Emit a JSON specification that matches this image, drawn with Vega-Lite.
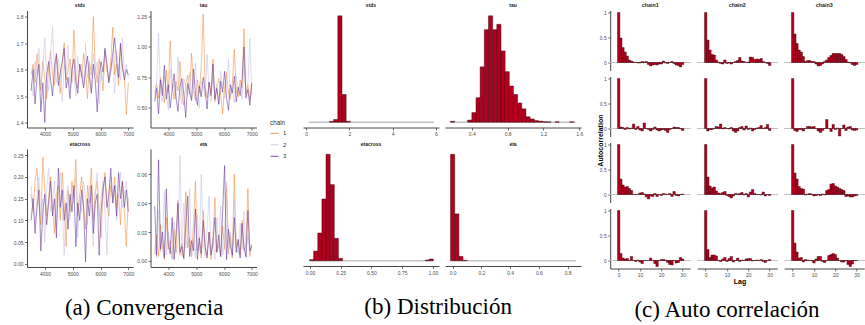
{
"$schema":"https://vega.github.io/schema/vega-lite/v6.json",
"padding":{"left":11,"top":2.5,"right":0,"bottom":0},
"config":{
"view":{"stroke":null},
"font":"Liberation Sans",
"axis":{"grid":false,"domainColor":"#333333","domainWidth":0.9,"tickColor":"#333333","tickSize":2.5,"tickWidth":0.7,"labelColor":"#4D4D4D","labelFontSize":5,"labelFont":"Liberation Sans","labelPadding":1.5},
"axisX":{"minExtent":10},
"title":{"font":"Liberation Sans","fontSize":5,"fontWeight":"bold","color":"#1A1A1A","offset":2.5,"anchor":"middle","frame":"group"}
},
"datasets":{
"trace":[
{"p":"stds","c":"1","i":3500,"v":1.58},{"p":"stds","c":"1","i":3570,"v":1.62},{"p":"stds","c":"1","i":3640,"v":1.55},{"p":"stds","c":"1","i":3710,"v":1.66},{"p":"stds","c":"1","i":3780,"v":1.60},{"p":"stds","c":"1","i":3850,"v":1.52},{"p":"stds","c":"1","i":3920,"v":1.63},{"p":"stds","c":"1","i":3990,"v":1.57},{"p":"stds","c":"1","i":4060,"v":1.49},{"p":"stds","c":"1","i":4130,"v":1.61},{"p":"stds","c":"1","i":4200,"v":1.67},{"p":"stds","c":"1","i":4270,"v":1.58},{"p":"stds","c":"1","i":4340,"v":1.54},{"p":"stds","c":"1","i":4410,"v":1.65},{"p":"stds","c":"1","i":4480,"v":1.59},{"p":"stds","c":"1","i":4550,"v":1.51},{"p":"stds","c":"1","i":4620,"v":1.62},{"p":"stds","c":"1","i":4690,"v":1.70},{"p":"stds","c":"1","i":4760,"v":1.56},{"p":"stds","c":"1","i":4830,"v":1.60},{"p":"stds","c":"1","i":4900,"v":1.64},{"p":"stds","c":"1","i":4970,"v":1.55},{"p":"stds","c":"1","i":5040,"v":1.75},{"p":"stds","c":"1","i":5110,"v":1.58},{"p":"stds","c":"1","i":5180,"v":1.53},{"p":"stds","c":"1","i":5250,"v":1.62},{"p":"stds","c":"1","i":5320,"v":1.57},{"p":"stds","c":"1","i":5390,"v":1.66},{"p":"stds","c":"1","i":5460,"v":1.60},{"p":"stds","c":"1","i":5530,"v":1.49},{"p":"stds","c":"1","i":5600,"v":1.63},{"p":"stds","c":"1","i":5670,"v":1.58},{"p":"stds","c":"1","i":5740,"v":1.80},{"p":"stds","c":"1","i":5810,"v":1.61},{"p":"stds","c":"1","i":5880,"v":1.55},{"p":"stds","c":"1","i":5950,"v":1.64},{"p":"stds","c":"1","i":6020,"v":1.59},{"p":"stds","c":"1","i":6090,"v":1.52},{"p":"stds","c":"1","i":6160,"v":1.67},{"p":"stds","c":"1","i":6230,"v":1.60},{"p":"stds","c":"1","i":6300,"v":1.56},{"p":"stds","c":"1","i":6370,"v":1.63},{"p":"stds","c":"1","i":6440,"v":1.76},{"p":"stds","c":"1","i":6510,"v":1.58},{"p":"stds","c":"1","i":6580,"v":1.62},{"p":"stds","c":"1","i":6650,"v":1.54},{"p":"stds","c":"1","i":6720,"v":1.69},{"p":"stds","c":"1","i":6790,"v":1.60},{"p":"stds","c":"1","i":6860,"v":1.57},{"p":"stds","c":"1","i":6930,"v":1.43},{"p":"stds","c":"1","i":7000,"v":1.55},
{"p":"stds","c":"2","i":3500,"v":1.55},{"p":"stds","c":"2","i":3570,"v":1.50},{"p":"stds","c":"2","i":3640,"v":1.63},{"p":"stds","c":"2","i":3710,"v":1.58},{"p":"stds","c":"2","i":3780,"v":1.68},{"p":"stds","c":"2","i":3850,"v":1.54},{"p":"stds","c":"2","i":3920,"v":1.61},{"p":"stds","c":"2","i":3990,"v":1.72},{"p":"stds","c":"2","i":4060,"v":1.57},{"p":"stds","c":"2","i":4130,"v":1.52},{"p":"stds","c":"2","i":4200,"v":1.66},{"p":"stds","c":"2","i":4270,"v":1.76},{"p":"stds","c":"2","i":4340,"v":1.59},{"p":"stds","c":"2","i":4410,"v":1.55},{"p":"stds","c":"2","i":4480,"v":1.64},{"p":"stds","c":"2","i":4550,"v":1.60},{"p":"stds","c":"2","i":4620,"v":1.48},{"p":"stds","c":"2","i":4690,"v":1.62},{"p":"stds","c":"2","i":4760,"v":1.57},{"p":"stds","c":"2","i":4830,"v":1.69},{"p":"stds","c":"2","i":4900,"v":1.53},{"p":"stds","c":"2","i":4970,"v":1.61},{"p":"stds","c":"2","i":5040,"v":1.58},{"p":"stds","c":"2","i":5110,"v":1.50},{"p":"stds","c":"2","i":5180,"v":1.65},{"p":"stds","c":"2","i":5250,"v":1.59},{"p":"stds","c":"2","i":5320,"v":1.62},{"p":"stds","c":"2","i":5390,"v":1.54},{"p":"stds","c":"2","i":5460,"v":1.70},{"p":"stds","c":"2","i":5530,"v":1.57},{"p":"stds","c":"2","i":5600,"v":1.61},{"p":"stds","c":"2","i":5670,"v":1.52},{"p":"stds","c":"2","i":5740,"v":1.66},{"p":"stds","c":"2","i":5810,"v":1.58},{"p":"stds","c":"2","i":5880,"v":1.63},{"p":"stds","c":"2","i":5950,"v":1.47},{"p":"stds","c":"2","i":6020,"v":1.60},{"p":"stds","c":"2","i":6090,"v":1.56},{"p":"stds","c":"2","i":6160,"v":1.68},{"p":"stds","c":"2","i":6230,"v":1.62},{"p":"stds","c":"2","i":6300,"v":1.55},{"p":"stds","c":"2","i":6370,"v":1.59},{"p":"stds","c":"2","i":6440,"v":1.64},{"p":"stds","c":"2","i":6510,"v":1.51},{"p":"stds","c":"2","i":6580,"v":1.67},{"p":"stds","c":"2","i":6650,"v":1.60},{"p":"stds","c":"2","i":6720,"v":1.56},{"p":"stds","c":"2","i":6790,"v":1.72},{"p":"stds","c":"2","i":6860,"v":1.58},{"p":"stds","c":"2","i":6930,"v":1.62},{"p":"stds","c":"2","i":7000,"v":1.57},
{"p":"stds","c":"3","i":3500,"v":1.52},{"p":"stds","c":"3","i":3570,"v":1.60},{"p":"stds","c":"3","i":3640,"v":1.47},{"p":"stds","c":"3","i":3710,"v":1.57},{"p":"stds","c":"3","i":3780,"v":1.62},{"p":"stds","c":"3","i":3850,"v":1.44},{"p":"stds","c":"3","i":3920,"v":1.55},{"p":"stds","c":"3","i":3990,"v":1.40},{"p":"stds","c":"3","i":4060,"v":1.58},{"p":"stds","c":"3","i":4130,"v":1.63},{"p":"stds","c":"3","i":4200,"v":1.56},{"p":"stds","c":"3","i":4270,"v":1.50},{"p":"stds","c":"3","i":4340,"v":1.61},{"p":"stds","c":"3","i":4410,"v":1.66},{"p":"stds","c":"3","i":4480,"v":1.54},{"p":"stds","c":"3","i":4550,"v":1.59},{"p":"stds","c":"3","i":4620,"v":1.63},{"p":"stds","c":"3","i":4690,"v":1.68},{"p":"stds","c":"3","i":4760,"v":1.53},{"p":"stds","c":"3","i":4830,"v":1.57},{"p":"stds","c":"3","i":4900,"v":1.49},{"p":"stds","c":"3","i":4970,"v":1.60},{"p":"stds","c":"3","i":5040,"v":1.64},{"p":"stds","c":"3","i":5110,"v":1.55},{"p":"stds","c":"3","i":5180,"v":1.51},{"p":"stds","c":"3","i":5250,"v":1.62},{"p":"stds","c":"3","i":5320,"v":1.58},{"p":"stds","c":"3","i":5390,"v":1.53},{"p":"stds","c":"3","i":5460,"v":1.60},{"p":"stds","c":"3","i":5530,"v":1.65},{"p":"stds","c":"3","i":5600,"v":1.57},{"p":"stds","c":"3","i":5670,"v":1.51},{"p":"stds","c":"3","i":5740,"v":1.62},{"p":"stds","c":"3","i":5810,"v":1.56},{"p":"stds","c":"3","i":5880,"v":1.44},{"p":"stds","c":"3","i":5950,"v":1.58},{"p":"stds","c":"3","i":6020,"v":1.63},{"p":"stds","c":"3","i":6090,"v":1.59},{"p":"stds","c":"3","i":6160,"v":1.68},{"p":"stds","c":"3","i":6230,"v":1.62},{"p":"stds","c":"3","i":6300,"v":1.55},{"p":"stds","c":"3","i":6370,"v":1.60},{"p":"stds","c":"3","i":6440,"v":1.66},{"p":"stds","c":"3","i":6510,"v":1.72},{"p":"stds","c":"3","i":6580,"v":1.63},{"p":"stds","c":"3","i":6650,"v":1.57},{"p":"stds","c":"3","i":6720,"v":1.70},{"p":"stds","c":"3","i":6790,"v":1.61},{"p":"stds","c":"3","i":6860,"v":1.56},{"p":"stds","c":"3","i":6930,"v":1.60},{"p":"stds","c":"3","i":7000,"v":1.58},
{"p":"tau","c":"1","i":3500,"v":0.62},{"p":"tau","c":"1","i":3570,"v":0.70},{"p":"tau","c":"1","i":3640,"v":0.58},{"p":"tau","c":"1","i":3710,"v":0.75},{"p":"tau","c":"1","i":3780,"v":0.66},{"p":"tau","c":"1","i":3850,"v":0.54},{"p":"tau","c":"1","i":3920,"v":0.81},{"p":"tau","c":"1","i":3990,"v":0.63},{"p":"tau","c":"1","i":4060,"v":1.05},{"p":"tau","c":"1","i":4130,"v":0.68},{"p":"tau","c":"1","i":4200,"v":0.57},{"p":"tau","c":"1","i":4270,"v":0.72},{"p":"tau","c":"1","i":4340,"v":0.64},{"p":"tau","c":"1","i":4410,"v":0.88},{"p":"tau","c":"1","i":4480,"v":0.60},{"p":"tau","c":"1","i":4550,"v":0.52},{"p":"tau","c":"1","i":4620,"v":0.69},{"p":"tau","c":"1","i":4690,"v":0.77},{"p":"tau","c":"1","i":4760,"v":0.61},{"p":"tau","c":"1","i":4830,"v":0.95},{"p":"tau","c":"1","i":4900,"v":0.65},{"p":"tau","c":"1","i":4970,"v":0.56},{"p":"tau","c":"1","i":5040,"v":0.73},{"p":"tau","c":"1","i":5110,"v":0.62},{"p":"tau","c":"1","i":5180,"v":0.84},{"p":"tau","c":"1","i":5250,"v":1.27},{"p":"tau","c":"1","i":5320,"v":0.67},{"p":"tau","c":"1","i":5390,"v":0.58},{"p":"tau","c":"1","i":5460,"v":0.71},{"p":"tau","c":"1","i":5530,"v":0.63},{"p":"tau","c":"1","i":5600,"v":0.90},{"p":"tau","c":"1","i":5670,"v":0.55},{"p":"tau","c":"1","i":5740,"v":0.68},{"p":"tau","c":"1","i":5810,"v":0.74},{"p":"tau","c":"1","i":5880,"v":0.60},{"p":"tau","c":"1","i":5950,"v":0.45},{"p":"tau","c":"1","i":6020,"v":0.66},{"p":"tau","c":"1","i":6090,"v":0.79},{"p":"tau","c":"1","i":6160,"v":0.62},{"p":"tau","c":"1","i":6230,"v":0.57},{"p":"tau","c":"1","i":6300,"v":0.70},{"p":"tau","c":"1","i":6370,"v":0.98},{"p":"tau","c":"1","i":6440,"v":0.64},{"p":"tau","c":"1","i":6510,"v":0.59},{"p":"tau","c":"1","i":6580,"v":0.73},{"p":"tau","c":"1","i":6650,"v":0.66},{"p":"tau","c":"1","i":6720,"v":1.15},{"p":"tau","c":"1","i":6790,"v":0.61},{"p":"tau","c":"1","i":6860,"v":0.69},{"p":"tau","c":"1","i":6930,"v":0.56},{"p":"tau","c":"1","i":7000,"v":0.71},
{"p":"tau","c":"2","i":3500,"v":0.58},{"p":"tau","c":"2","i":3570,"v":0.71},{"p":"tau","c":"2","i":3640,"v":1.11},{"p":"tau","c":"2","i":3710,"v":0.62},{"p":"tau","c":"2","i":3780,"v":0.55},{"p":"tau","c":"2","i":3850,"v":0.76},{"p":"tau","c":"2","i":3920,"v":0.66},{"p":"tau","c":"2","i":3990,"v":0.48},{"p":"tau","c":"2","i":4060,"v":0.82},{"p":"tau","c":"2","i":4130,"v":0.64},{"p":"tau","c":"2","i":4200,"v":0.70},{"p":"tau","c":"2","i":4270,"v":0.57},{"p":"tau","c":"2","i":4340,"v":0.92},{"p":"tau","c":"2","i":4410,"v":0.63},{"p":"tau","c":"2","i":4480,"v":0.53},{"p":"tau","c":"2","i":4550,"v":0.74},{"p":"tau","c":"2","i":4620,"v":0.68},{"p":"tau","c":"2","i":4690,"v":0.60},{"p":"tau","c":"2","i":4760,"v":0.79},{"p":"tau","c":"2","i":4830,"v":0.56},{"p":"tau","c":"2","i":4900,"v":0.65},{"p":"tau","c":"2","i":4970,"v":0.87},{"p":"tau","c":"2","i":5040,"v":0.61},{"p":"tau","c":"2","i":5110,"v":0.50},{"p":"tau","c":"2","i":5180,"v":0.72},{"p":"tau","c":"2","i":5250,"v":0.67},{"p":"tau","c":"2","i":5320,"v":0.59},{"p":"tau","c":"2","i":5390,"v":0.94},{"p":"tau","c":"2","i":5460,"v":0.63},{"p":"tau","c":"2","i":5530,"v":0.55},{"p":"tau","c":"2","i":5600,"v":0.75},{"p":"tau","c":"2","i":5670,"v":0.62},{"p":"tau","c":"2","i":5740,"v":0.69},{"p":"tau","c":"2","i":5810,"v":0.52},{"p":"tau","c":"2","i":5880,"v":0.80},{"p":"tau","c":"2","i":5950,"v":0.64},{"p":"tau","c":"2","i":6020,"v":0.58},{"p":"tau","c":"2","i":6090,"v":0.71},{"p":"tau","c":"2","i":6160,"v":0.90},{"p":"tau","c":"2","i":6230,"v":0.60},{"p":"tau","c":"2","i":6300,"v":0.66},{"p":"tau","c":"2","i":6370,"v":0.54},{"p":"tau","c":"2","i":6440,"v":0.77},{"p":"tau","c":"2","i":6510,"v":0.63},{"p":"tau","c":"2","i":6580,"v":0.70},{"p":"tau","c":"2","i":6650,"v":0.57},{"p":"tau","c":"2","i":6720,"v":0.85},{"p":"tau","c":"2","i":6790,"v":0.62},{"p":"tau","c":"2","i":6860,"v":0.68},{"p":"tau","c":"2","i":6930,"v":1.07},{"p":"tau","c":"2","i":7000,"v":0.60},
{"p":"tau","c":"3","i":3500,"v":0.55},{"p":"tau","c":"3","i":3570,"v":0.66},{"p":"tau","c":"3","i":3640,"v":0.45},{"p":"tau","c":"3","i":3710,"v":0.73},{"p":"tau","c":"3","i":3780,"v":0.60},{"p":"tau","c":"3","i":3850,"v":0.85},{"p":"tau","c":"3","i":3920,"v":0.57},{"p":"tau","c":"3","i":3990,"v":0.69},{"p":"tau","c":"3","i":4060,"v":0.50},{"p":"tau","c":"3","i":4130,"v":0.64},{"p":"tau","c":"3","i":4200,"v":0.78},{"p":"tau","c":"3","i":4270,"v":0.58},{"p":"tau","c":"3","i":4340,"v":0.47},{"p":"tau","c":"3","i":4410,"v":0.67},{"p":"tau","c":"3","i":4480,"v":0.74},{"p":"tau","c":"3","i":4550,"v":0.61},{"p":"tau","c":"3","i":4620,"v":0.42},{"p":"tau","c":"3","i":4690,"v":0.70},{"p":"tau","c":"3","i":4760,"v":0.63},{"p":"tau","c":"3","i":4830,"v":0.56},{"p":"tau","c":"3","i":4900,"v":0.82},{"p":"tau","c":"3","i":4970,"v":0.62},{"p":"tau","c":"3","i":5040,"v":0.52},{"p":"tau","c":"3","i":5110,"v":0.68},{"p":"tau","c":"3","i":5180,"v":0.59},{"p":"tau","c":"3","i":5250,"v":0.75},{"p":"tau","c":"3","i":5320,"v":0.64},{"p":"tau","c":"3","i":5390,"v":0.49},{"p":"tau","c":"3","i":5460,"v":0.71},{"p":"tau","c":"3","i":5530,"v":0.60},{"p":"tau","c":"3","i":5600,"v":0.86},{"p":"tau","c":"3","i":5670,"v":0.57},{"p":"tau","c":"3","i":5740,"v":0.66},{"p":"tau","c":"3","i":5810,"v":0.53},{"p":"tau","c":"3","i":5880,"v":0.72},{"p":"tau","c":"3","i":5950,"v":0.63},{"p":"tau","c":"3","i":6020,"v":0.80},{"p":"tau","c":"3","i":6090,"v":0.58},{"p":"tau","c":"3","i":6160,"v":0.48},{"p":"tau","c":"3","i":6230,"v":0.69},{"p":"tau","c":"3","i":6300,"v":0.62},{"p":"tau","c":"3","i":6370,"v":0.76},{"p":"tau","c":"3","i":6440,"v":0.55},{"p":"tau","c":"3","i":6510,"v":0.67},{"p":"tau","c":"3","i":6580,"v":0.60},{"p":"tau","c":"3","i":6650,"v":0.73},{"p":"tau","c":"3","i":6720,"v":1.00},{"p":"tau","c":"3","i":6790,"v":0.58},{"p":"tau","c":"3","i":6860,"v":0.65},{"p":"tau","c":"3","i":6930,"v":0.52},{"p":"tau","c":"3","i":7000,"v":0.70},
{"p":"etacross","c":"1","i":3500,"v":0.16},{"p":"etacross","c":"1","i":3570,"v":0.12},{"p":"etacross","c":"1","i":3640,"v":0.19},{"p":"etacross","c":"1","i":3710,"v":0.22},{"p":"etacross","c":"1","i":3780,"v":0.14},{"p":"etacross","c":"1","i":3850,"v":0.09},{"p":"etacross","c":"1","i":3920,"v":0.245},{"p":"etacross","c":"1","i":3990,"v":0.17},{"p":"etacross","c":"1","i":4060,"v":0.11},{"p":"etacross","c":"1","i":4130,"v":0.15},{"p":"etacross","c":"1","i":4200,"v":0.20},{"p":"etacross","c":"1","i":4270,"v":0.13},{"p":"etacross","c":"1","i":4340,"v":0.07},{"p":"etacross","c":"1","i":4410,"v":0.16},{"p":"etacross","c":"1","i":4480,"v":0.18},{"p":"etacross","c":"1","i":4550,"v":0.10},{"p":"etacross","c":"1","i":4620,"v":0.21},{"p":"etacross","c":"1","i":4690,"v":0.14},{"p":"etacross","c":"1","i":4760,"v":0.04},{"p":"etacross","c":"1","i":4830,"v":0.17},{"p":"etacross","c":"1","i":4900,"v":0.12},{"p":"etacross","c":"1","i":4970,"v":0.19},{"p":"etacross","c":"1","i":5040,"v":0.15},{"p":"etacross","c":"1","i":5110,"v":0.24},{"p":"etacross","c":"1","i":5180,"v":0.11},{"p":"etacross","c":"1","i":5250,"v":0.16},{"p":"etacross","c":"1","i":5320,"v":0.20},{"p":"etacross","c":"1","i":5390,"v":0.13},{"p":"etacross","c":"1","i":5460,"v":0.08},{"p":"etacross","c":"1","i":5530,"v":0.18},{"p":"etacross","c":"1","i":5600,"v":0.14},{"p":"etacross","c":"1","i":5670,"v":0.22},{"p":"etacross","c":"1","i":5740,"v":0.10},{"p":"etacross","c":"1","i":5810,"v":0.16},{"p":"etacross","c":"1","i":5880,"v":0.19},{"p":"etacross","c":"1","i":5950,"v":0.12},{"p":"etacross","c":"1","i":6020,"v":0.06},{"p":"etacross","c":"1","i":6090,"v":0.17},{"p":"etacross","c":"1","i":6160,"v":0.21},{"p":"etacross","c":"1","i":6230,"v":0.14},{"p":"etacross","c":"1","i":6300,"v":0.11},{"p":"etacross","c":"1","i":6370,"v":0.18},{"p":"etacross","c":"1","i":6440,"v":0.15},{"p":"etacross","c":"1","i":6510,"v":0.20},{"p":"etacross","c":"1","i":6580,"v":0.13},{"p":"etacross","c":"1","i":6650,"v":0.16},{"p":"etacross","c":"1","i":6720,"v":0.09},{"p":"etacross","c":"1","i":6790,"v":0.19},{"p":"etacross","c":"1","i":6860,"v":0.12},{"p":"etacross","c":"1","i":6930,"v":0.04},{"p":"etacross","c":"1","i":7000,"v":0.15},
{"p":"etacross","c":"2","i":3500,"v":0.18},{"p":"etacross","c":"2","i":3570,"v":0.13},{"p":"etacross","c":"2","i":3640,"v":0.09},{"p":"etacross","c":"2","i":3710,"v":0.16},{"p":"etacross","c":"2","i":3780,"v":0.20},{"p":"etacross","c":"2","i":3850,"v":0.11},{"p":"etacross","c":"2","i":3920,"v":0.15},{"p":"etacross","c":"2","i":3990,"v":0.05},{"p":"etacross","c":"2","i":4060,"v":0.17},{"p":"etacross","c":"2","i":4130,"v":0.22},{"p":"etacross","c":"2","i":4200,"v":0.12},{"p":"etacross","c":"2","i":4270,"v":0.14},{"p":"etacross","c":"2","i":4340,"v":0.19},{"p":"etacross","c":"2","i":4410,"v":0.08},{"p":"etacross","c":"2","i":4480,"v":0.16},{"p":"etacross","c":"2","i":4550,"v":0.21},{"p":"etacross","c":"2","i":4620,"v":0.13},{"p":"etacross","c":"2","i":4690,"v":0.02},{"p":"etacross","c":"2","i":4760,"v":0.15},{"p":"etacross","c":"2","i":4830,"v":0.18},{"p":"etacross","c":"2","i":4900,"v":0.10},{"p":"etacross","c":"2","i":4970,"v":0.17},{"p":"etacross","c":"2","i":5040,"v":0.14},{"p":"etacross","c":"2","i":5110,"v":0.20},{"p":"etacross","c":"2","i":5180,"v":0.06},{"p":"etacross","c":"2","i":5250,"v":0.16},{"p":"etacross","c":"2","i":5320,"v":0.12},{"p":"etacross","c":"2","i":5390,"v":0.19},{"p":"etacross","c":"2","i":5460,"v":0.15},{"p":"etacross","c":"2","i":5530,"v":0.09},{"p":"etacross","c":"2","i":5600,"v":0.18},{"p":"etacross","c":"2","i":5670,"v":0.13},{"p":"etacross","c":"2","i":5740,"v":0.04},{"p":"etacross","c":"2","i":5810,"v":0.17},{"p":"etacross","c":"2","i":5880,"v":0.21},{"p":"etacross","c":"2","i":5950,"v":0.11},{"p":"etacross","c":"2","i":6020,"v":0.15},{"p":"etacross","c":"2","i":6090,"v":0.19},{"p":"etacross","c":"2","i":6160,"v":0.12},{"p":"etacross","c":"2","i":6230,"v":0.02},{"p":"etacross","c":"2","i":6300,"v":0.16},{"p":"etacross","c":"2","i":6370,"v":0.20},{"p":"etacross","c":"2","i":6440,"v":0.14},{"p":"etacross","c":"2","i":6510,"v":0.18},{"p":"etacross","c":"2","i":6580,"v":0.10},{"p":"etacross","c":"2","i":6650,"v":0.17},{"p":"etacross","c":"2","i":6720,"v":0.21},{"p":"etacross","c":"2","i":6790,"v":0.13},{"p":"etacross","c":"2","i":6860,"v":0.16},{"p":"etacross","c":"2","i":6930,"v":0.19},{"p":"etacross","c":"2","i":7000,"v":0.14},
{"p":"etacross","c":"3","i":3500,"v":0.10},{"p":"etacross","c":"3","i":3570,"v":0.15},{"p":"etacross","c":"3","i":3640,"v":0.07},{"p":"etacross","c":"3","i":3710,"v":0.13},{"p":"etacross","c":"3","i":3780,"v":0.17},{"p":"etacross","c":"3","i":3850,"v":0.03},{"p":"etacross","c":"3","i":3920,"v":0.12},{"p":"etacross","c":"3","i":3990,"v":0.16},{"p":"etacross","c":"3","i":4060,"v":0.09},{"p":"etacross","c":"3","i":4130,"v":0.14},{"p":"etacross","c":"3","i":4200,"v":0.19},{"p":"etacross","c":"3","i":4270,"v":0.11},{"p":"etacross","c":"3","i":4340,"v":0.15},{"p":"etacross","c":"3","i":4410,"v":0.06},{"p":"etacross","c":"3","i":4480,"v":0.22},{"p":"etacross","c":"3","i":4550,"v":0.13},{"p":"etacross","c":"3","i":4620,"v":0.17},{"p":"etacross","c":"3","i":4690,"v":0.10},{"p":"etacross","c":"3","i":4760,"v":0.14},{"p":"etacross","c":"3","i":4830,"v":0.08},{"p":"etacross","c":"3","i":4900,"v":0.16},{"p":"etacross","c":"3","i":4970,"v":0.12},{"p":"etacross","c":"3","i":5040,"v":0.18},{"p":"etacross","c":"3","i":5110,"v":0.04},{"p":"etacross","c":"3","i":5180,"v":0.14},{"p":"etacross","c":"3","i":5250,"v":0.10},{"p":"etacross","c":"3","i":5320,"v":0.17},{"p":"etacross","c":"3","i":5390,"v":0.13},{"p":"etacross","c":"3","i":5460,"v":0.005},{"p":"etacross","c":"3","i":5530,"v":0.15},{"p":"etacross","c":"3","i":5600,"v":0.11},{"p":"etacross","c":"3","i":5670,"v":0.18},{"p":"etacross","c":"3","i":5740,"v":0.07},{"p":"etacross","c":"3","i":5810,"v":0.14},{"p":"etacross","c":"3","i":5880,"v":0.16},{"p":"etacross","c":"3","i":5950,"v":0.02},{"p":"etacross","c":"3","i":6020,"v":0.12},{"p":"etacross","c":"3","i":6090,"v":0.17},{"p":"etacross","c":"3","i":6160,"v":0.20},{"p":"etacross","c":"3","i":6230,"v":0.13},{"p":"etacross","c":"3","i":6300,"v":0.16},{"p":"etacross","c":"3","i":6370,"v":0.22},{"p":"etacross","c":"3","i":6440,"v":0.14},{"p":"etacross","c":"3","i":6510,"v":0.18},{"p":"etacross","c":"3","i":6580,"v":0.11},{"p":"etacross","c":"3","i":6650,"v":0.21},{"p":"etacross","c":"3","i":6720,"v":0.15},{"p":"etacross","c":"3","i":6790,"v":0.19},{"p":"etacross","c":"3","i":6860,"v":0.13},{"p":"etacross","c":"3","i":6930,"v":0.17},{"p":"etacross","c":"3","i":7000,"v":0.12},
{"p":"eta","c":"1","i":3500,"v":0.005},{"p":"eta","c":"1","i":3570,"v":0.018},{"p":"eta","c":"1","i":3640,"v":0.003},{"p":"eta","c":"1","i":3710,"v":0.025},{"p":"eta","c":"1","i":3780,"v":0.010},{"p":"eta","c":"1","i":3850,"v":0.001},{"p":"eta","c":"1","i":3920,"v":0.030},{"p":"eta","c":"1","i":3990,"v":0.008},{"p":"eta","c":"1","i":4060,"v":0.014},{"p":"eta","c":"1","i":4130,"v":0.002},{"p":"eta","c":"1","i":4200,"v":0.022},{"p":"eta","c":"1","i":4270,"v":0.006},{"p":"eta","c":"1","i":4340,"v":0.042},{"p":"eta","c":"1","i":4410,"v":0.004},{"p":"eta","c":"1","i":4480,"v":0.012},{"p":"eta","c":"1","i":4550,"v":0.001},{"p":"eta","c":"1","i":4620,"v":0.048},{"p":"eta","c":"1","i":4690,"v":0.009},{"p":"eta","c":"1","i":4760,"v":0.016},{"p":"eta","c":"1","i":4830,"v":0.003},{"p":"eta","c":"1","i":4900,"v":0.026},{"p":"eta","c":"1","i":4970,"v":0.055},{"p":"eta","c":"1","i":5040,"v":0.007},{"p":"eta","c":"1","i":5110,"v":0.013},{"p":"eta","c":"1","i":5180,"v":0.002},{"p":"eta","c":"1","i":5250,"v":0.035},{"p":"eta","c":"1","i":5320,"v":0.010},{"p":"eta","c":"1","i":5390,"v":0.004},{"p":"eta","c":"1","i":5460,"v":0.020},{"p":"eta","c":"1","i":5530,"v":0.001},{"p":"eta","c":"1","i":5600,"v":0.015},{"p":"eta","c":"1","i":5670,"v":0.044},{"p":"eta","c":"1","i":5740,"v":0.006},{"p":"eta","c":"1","i":5810,"v":0.011},{"p":"eta","c":"1","i":5880,"v":0.003},{"p":"eta","c":"1","i":5950,"v":0.024},{"p":"eta","c":"1","i":6020,"v":0.008},{"p":"eta","c":"1","i":6090,"v":0.052},{"p":"eta","c":"1","i":6160,"v":0.005},{"p":"eta","c":"1","i":6230,"v":0.017},{"p":"eta","c":"1","i":6300,"v":0.002},{"p":"eta","c":"1","i":6370,"v":0.060},{"p":"eta","c":"1","i":6440,"v":0.009},{"p":"eta","c":"1","i":6510,"v":0.014},{"p":"eta","c":"1","i":6580,"v":0.004},{"p":"eta","c":"1","i":6650,"v":0.028},{"p":"eta","c":"1","i":6720,"v":0.007},{"p":"eta","c":"1","i":6790,"v":0.012},{"p":"eta","c":"1","i":6860,"v":0.050},{"p":"eta","c":"1","i":6930,"v":0.003},{"p":"eta","c":"1","i":7000,"v":0.010},
{"p":"eta","c":"2","i":3500,"v":0.010},{"p":"eta","c":"2","i":3570,"v":0.002},{"p":"eta","c":"2","i":3640,"v":0.035},{"p":"eta","c":"2","i":3710,"v":0.006},{"p":"eta","c":"2","i":3780,"v":0.015},{"p":"eta","c":"2","i":3850,"v":0.048},{"p":"eta","c":"2","i":3920,"v":0.004},{"p":"eta","c":"2","i":3990,"v":0.020},{"p":"eta","c":"2","i":4060,"v":0.008},{"p":"eta","c":"2","i":4130,"v":0.001},{"p":"eta","c":"2","i":4200,"v":0.027},{"p":"eta","c":"2","i":4270,"v":0.005},{"p":"eta","c":"2","i":4340,"v":0.012},{"p":"eta","c":"2","i":4410,"v":0.073},{"p":"eta","c":"2","i":4480,"v":0.003},{"p":"eta","c":"2","i":4550,"v":0.040},{"p":"eta","c":"2","i":4620,"v":0.009},{"p":"eta","c":"2","i":4690,"v":0.018},{"p":"eta","c":"2","i":4760,"v":0.050},{"p":"eta","c":"2","i":4830,"v":0.004},{"p":"eta","c":"2","i":4900,"v":0.014},{"p":"eta","c":"2","i":4970,"v":0.002},{"p":"eta","c":"2","i":5040,"v":0.032},{"p":"eta","c":"2","i":5110,"v":0.007},{"p":"eta","c":"2","i":5180,"v":0.060},{"p":"eta","c":"2","i":5250,"v":0.011},{"p":"eta","c":"2","i":5320,"v":0.003},{"p":"eta","c":"2","i":5390,"v":0.022},{"p":"eta","c":"2","i":5460,"v":0.045},{"p":"eta","c":"2","i":5530,"v":0.006},{"p":"eta","c":"2","i":5600,"v":0.016},{"p":"eta","c":"2","i":5670,"v":0.001},{"p":"eta","c":"2","i":5740,"v":0.030},{"p":"eta","c":"2","i":5810,"v":0.009},{"p":"eta","c":"2","i":5880,"v":0.038},{"p":"eta","c":"2","i":5950,"v":0.004},{"p":"eta","c":"2","i":6020,"v":0.013},{"p":"eta","c":"2","i":6090,"v":0.055},{"p":"eta","c":"2","i":6160,"v":0.007},{"p":"eta","c":"2","i":6230,"v":0.020},{"p":"eta","c":"2","i":6300,"v":0.003},{"p":"eta","c":"2","i":6370,"v":0.042},{"p":"eta","c":"2","i":6440,"v":0.010},{"p":"eta","c":"2","i":6510,"v":0.005},{"p":"eta","c":"2","i":6580,"v":0.026},{"p":"eta","c":"2","i":6650,"v":0.008},{"p":"eta","c":"2","i":6720,"v":0.034},{"p":"eta","c":"2","i":6790,"v":0.002},{"p":"eta","c":"2","i":6860,"v":0.018},{"p":"eta","c":"2","i":6930,"v":0.006},{"p":"eta","c":"2","i":7000,"v":0.012},
{"p":"eta","c":"3","i":3500,"v":0.038},{"p":"eta","c":"3","i":3570,"v":0.004},{"p":"eta","c":"3","i":3640,"v":0.070},{"p":"eta","c":"3","i":3710,"v":0.008},{"p":"eta","c":"3","i":3780,"v":0.020},{"p":"eta","c":"3","i":3850,"v":0.002},{"p":"eta","c":"3","i":3920,"v":0.050},{"p":"eta","c":"3","i":3990,"v":0.012},{"p":"eta","c":"3","i":4060,"v":0.005},{"p":"eta","c":"3","i":4130,"v":0.030},{"p":"eta","c":"3","i":4200,"v":0.001},{"p":"eta","c":"3","i":4270,"v":0.018},{"p":"eta","c":"3","i":4340,"v":0.040},{"p":"eta","c":"3","i":4410,"v":0.006},{"p":"eta","c":"3","i":4480,"v":0.010},{"p":"eta","c":"3","i":4550,"v":0.002},{"p":"eta","c":"3","i":4620,"v":0.024},{"p":"eta","c":"3","i":4690,"v":0.045},{"p":"eta","c":"3","i":4760,"v":0.003},{"p":"eta","c":"3","i":4830,"v":0.014},{"p":"eta","c":"3","i":4900,"v":0.007},{"p":"eta","c":"3","i":4970,"v":0.036},{"p":"eta","c":"3","i":5040,"v":0.001},{"p":"eta","c":"3","i":5110,"v":0.016},{"p":"eta","c":"3","i":5180,"v":0.005},{"p":"eta","c":"3","i":5250,"v":0.028},{"p":"eta","c":"3","i":5320,"v":0.009},{"p":"eta","c":"3","i":5390,"v":0.002},{"p":"eta","c":"3","i":5460,"v":0.020},{"p":"eta","c":"3","i":5530,"v":0.004},{"p":"eta","c":"3","i":5600,"v":0.012},{"p":"eta","c":"3","i":5670,"v":0.030},{"p":"eta","c":"3","i":5740,"v":0.006},{"p":"eta","c":"3","i":5810,"v":0.018},{"p":"eta","c":"3","i":5880,"v":0.003},{"p":"eta","c":"3","i":5950,"v":0.034},{"p":"eta","c":"3","i":6020,"v":0.066},{"p":"eta","c":"3","i":6090,"v":0.001},{"p":"eta","c":"3","i":6160,"v":0.022},{"p":"eta","c":"3","i":6230,"v":0.010},{"p":"eta","c":"3","i":6300,"v":0.004},{"p":"eta","c":"3","i":6370,"v":0.030},{"p":"eta","c":"3","i":6440,"v":0.006},{"p":"eta","c":"3","i":6510,"v":0.015},{"p":"eta","c":"3","i":6580,"v":0.002},{"p":"eta","c":"3","i":6650,"v":0.026},{"p":"eta","c":"3","i":6720,"v":0.009},{"p":"eta","c":"3","i":6790,"v":0.003},{"p":"eta","c":"3","i":6860,"v":0.035},{"p":"eta","c":"3","i":6930,"v":0.007},{"p":"eta","c":"3","i":7000,"v":0.011}
],
"hist":[
{"p":"stds","x0":1.0825,"x1":1.275,"n":0.6},{"p":"stds","x0":1.275,"x1":1.4675,"n":2.5},{"p":"stds","x0":1.4675,"x1":1.66,"n":100},{"p":"stds","x0":1.66,"x1":1.8525,"n":26},{"p":"stds","x0":1.8525,"x1":2.045,"n":0.8},
{"p":"tau","x0":0.1605,"x1":0.207,"n":0.8},{"p":"tau","x0":0.3535,"x1":0.4,"n":2},{"p":"tau","x0":0.4,"x1":0.4465,"n":9},{"p":"tau","x0":0.4465,"x1":0.493,"n":23},{"p":"tau","x0":0.493,"x1":0.5395,"n":52},{"p":"tau","x0":0.5395,"x1":0.586,"n":87},{"p":"tau","x0":0.586,"x1":0.6325,"n":100},{"p":"tau","x0":0.6325,"x1":0.679,"n":87},{"p":"tau","x0":0.679,"x1":0.7255,"n":92},{"p":"tau","x0":0.7255,"x1":0.772,"n":67},{"p":"tau","x0":0.772,"x1":0.8185,"n":47.5},{"p":"tau","x0":0.8185,"x1":0.865,"n":34},{"p":"tau","x0":0.865,"x1":0.9115,"n":26},{"p":"tau","x0":0.9115,"x1":0.958,"n":18},{"p":"tau","x0":0.958,"x1":1.0045,"n":12.5},{"p":"tau","x0":1.0045,"x1":1.051,"n":5},{"p":"tau","x0":1.051,"x1":1.0975,"n":3},{"p":"tau","x0":1.0975,"x1":1.144,"n":1.5},{"p":"tau","x0":1.144,"x1":1.1905,"n":1},{"p":"tau","x0":1.1905,"x1":1.237,"n":0.5},{"p":"tau","x0":1.237,"x1":1.2835,"n":0.3},{"p":"tau","x0":1.33,"x1":1.3765,"n":0.3},{"p":"tau","x0":1.4925,"x1":1.539,"n":0.3},
{"p":"etacross","x0":-0.004,"x1":0.0296,"n":1},{"p":"etacross","x0":0.0296,"x1":0.0632,"n":9},{"p":"etacross","x0":0.0632,"x1":0.0968,"n":26},{"p":"etacross","x0":0.0968,"x1":0.1304,"n":58},{"p":"etacross","x0":0.1304,"x1":0.164,"n":100},{"p":"etacross","x0":0.164,"x1":0.1976,"n":71.5},{"p":"etacross","x0":0.1976,"x1":0.2312,"n":21},{"p":"etacross","x0":0.2312,"x1":0.2648,"n":2.2},{"p":"etacross","x0":0.9368,"x1":0.9704,"n":0.6},{"p":"etacross","x0":0.9704,"x1":1.004,"n":1.6},
{"p":"eta","x0":-0.0145,"x1":0.0145,"n":100},{"p":"eta","x0":0.0145,"x1":0.0435,"n":44},{"p":"eta","x0":0.0435,"x1":0.0725,"n":4},{"p":"eta","x0":0.0725,"x1":0.1015,"n":0.3}
],
"hrange":[
{"p":"stds","lo":0.12,"hi":5.9},{"p":"tau","lo":0.1605,"hi":1.56},{"p":"etacross","lo":-0.004,"hi":1.004},{"p":"eta","lo":-0.0145,"hi":0.856}
],
"acf":[
{"p":"stds","c":"chain1","l":0,"a":1},{"p":"stds","c":"chain1","l":1,"a":0.49},{"p":"stds","c":"chain1","l":2,"a":0.30},{"p":"stds","c":"chain1","l":3,"a":0.21},{"p":"stds","c":"chain1","l":4,"a":0.13},{"p":"stds","c":"chain1","l":5,"a":0.05},{"p":"stds","c":"chain1","l":6,"a":0.03},{"p":"stds","c":"chain1","l":7,"a":0.01},{"p":"stds","c":"chain1","l":8,"a":0.0},{"p":"stds","c":"chain1","l":9,"a":-0.01},{"p":"stds","c":"chain1","l":10,"a":-0.01},{"p":"stds","c":"chain1","l":11,"a":0.02},{"p":"stds","c":"chain1","l":12,"a":0.01},{"p":"stds","c":"chain1","l":13,"a":0.02},{"p":"stds","c":"chain1","l":14,"a":-0.04},{"p":"stds","c":"chain1","l":15,"a":-0.07},{"p":"stds","c":"chain1","l":16,"a":-0.05},{"p":"stds","c":"chain1","l":17,"a":-0.04},{"p":"stds","c":"chain1","l":18,"a":-0.05},{"p":"stds","c":"chain1","l":19,"a":-0.03},{"p":"stds","c":"chain1","l":20,"a":-0.03},{"p":"stds","c":"chain1","l":21,"a":0.03},{"p":"stds","c":"chain1","l":22,"a":-0.01},{"p":"stds","c":"chain1","l":23,"a":-0.02},{"p":"stds","c":"chain1","l":24,"a":0.0},{"p":"stds","c":"chain1","l":25,"a":0.02},{"p":"stds","c":"chain1","l":26,"a":-0.02},{"p":"stds","c":"chain1","l":27,"a":-0.05},{"p":"stds","c":"chain1","l":28,"a":-0.06},{"p":"stds","c":"chain1","l":29,"a":-0.09},{"p":"stds","c":"chain1","l":30,"a":-0.04},
{"p":"stds","c":"chain2","l":0,"a":1},{"p":"stds","c":"chain2","l":1,"a":0.45},{"p":"stds","c":"chain2","l":2,"a":0.25},{"p":"stds","c":"chain2","l":3,"a":0.16},{"p":"stds","c":"chain2","l":4,"a":0.15},{"p":"stds","c":"chain2","l":5,"a":0.05},{"p":"stds","c":"chain2","l":6,"a":0.01},{"p":"stds","c":"chain2","l":7,"a":-0.02},{"p":"stds","c":"chain2","l":8,"a":-0.03},{"p":"stds","c":"chain2","l":9,"a":0.05},{"p":"stds","c":"chain2","l":10,"a":-0.02},{"p":"stds","c":"chain2","l":11,"a":-0.01},{"p":"stds","c":"chain2","l":12,"a":-0.03},{"p":"stds","c":"chain2","l":13,"a":0.0},{"p":"stds","c":"chain2","l":14,"a":0.02},{"p":"stds","c":"chain2","l":15,"a":0.04},{"p":"stds","c":"chain2","l":16,"a":0.10},{"p":"stds","c":"chain2","l":17,"a":0.03},{"p":"stds","c":"chain2","l":18,"a":0.02},{"p":"stds","c":"chain2","l":19,"a":0.0},{"p":"stds","c":"chain2","l":20,"a":0.01},{"p":"stds","c":"chain2","l":21,"a":0.11},{"p":"stds","c":"chain2","l":22,"a":0.10},{"p":"stds","c":"chain2","l":23,"a":0.06},{"p":"stds","c":"chain2","l":24,"a":0.07},{"p":"stds","c":"chain2","l":25,"a":0.06},{"p":"stds","c":"chain2","l":26,"a":0.08},{"p":"stds","c":"chain2","l":27,"a":0.02},{"p":"stds","c":"chain2","l":28,"a":0.0},{"p":"stds","c":"chain2","l":29,"a":-0.02},{"p":"stds","c":"chain2","l":30,"a":-0.06},
{"p":"stds","c":"chain3","l":0,"a":1},{"p":"stds","c":"chain3","l":1,"a":0.57},{"p":"stds","c":"chain3","l":2,"a":0.38},{"p":"stds","c":"chain3","l":3,"a":0.25},{"p":"stds","c":"chain3","l":4,"a":0.21},{"p":"stds","c":"chain3","l":5,"a":0.12},{"p":"stds","c":"chain3","l":6,"a":0.02},{"p":"stds","c":"chain3","l":7,"a":0.04},{"p":"stds","c":"chain3","l":8,"a":0.04},{"p":"stds","c":"chain3","l":9,"a":0.02},{"p":"stds","c":"chain3","l":10,"a":0.02},{"p":"stds","c":"chain3","l":11,"a":-0.03},{"p":"stds","c":"chain3","l":12,"a":-0.07},{"p":"stds","c":"chain3","l":13,"a":-0.06},{"p":"stds","c":"chain3","l":14,"a":-0.03},{"p":"stds","c":"chain3","l":15,"a":0.02},{"p":"stds","c":"chain3","l":16,"a":0.05},{"p":"stds","c":"chain3","l":17,"a":0.10},{"p":"stds","c":"chain3","l":18,"a":0.14},{"p":"stds","c":"chain3","l":19,"a":0.18},{"p":"stds","c":"chain3","l":20,"a":0.18},{"p":"stds","c":"chain3","l":21,"a":0.18},{"p":"stds","c":"chain3","l":22,"a":0.18},{"p":"stds","c":"chain3","l":23,"a":0.16},{"p":"stds","c":"chain3","l":24,"a":0.12},{"p":"stds","c":"chain3","l":25,"a":0.06},{"p":"stds","c":"chain3","l":26,"a":0.01},{"p":"stds","c":"chain3","l":27,"a":-0.01},{"p":"stds","c":"chain3","l":28,"a":-0.04},{"p":"stds","c":"chain3","l":29,"a":-0.06},{"p":"stds","c":"chain3","l":30,"a":-0.04},
{"p":"tau","c":"chain1","l":0,"a":1},{"p":"tau","c":"chain1","l":1,"a":0.03},{"p":"tau","c":"chain1","l":2,"a":0.02},{"p":"tau","c":"chain1","l":3,"a":-0.02},{"p":"tau","c":"chain1","l":4,"a":0.02},{"p":"tau","c":"chain1","l":5,"a":-0.01},{"p":"tau","c":"chain1","l":6,"a":0.01},{"p":"tau","c":"chain1","l":7,"a":0.09},{"p":"tau","c":"chain1","l":8,"a":-0.02},{"p":"tau","c":"chain1","l":9,"a":0.04},{"p":"tau","c":"chain1","l":10,"a":-0.03},{"p":"tau","c":"chain1","l":11,"a":-0.05},{"p":"tau","c":"chain1","l":12,"a":0.11},{"p":"tau","c":"chain1","l":13,"a":0.0},{"p":"tau","c":"chain1","l":14,"a":-0.02},{"p":"tau","c":"chain1","l":15,"a":-0.05},{"p":"tau","c":"chain1","l":16,"a":-0.02},{"p":"tau","c":"chain1","l":17,"a":0.03},{"p":"tau","c":"chain1","l":18,"a":-0.03},{"p":"tau","c":"chain1","l":19,"a":-0.05},{"p":"tau","c":"chain1","l":20,"a":-0.03},{"p":"tau","c":"chain1","l":21,"a":-0.02},{"p":"tau","c":"chain1","l":22,"a":-0.04},{"p":"tau","c":"chain1","l":23,"a":-0.08},{"p":"tau","c":"chain1","l":24,"a":-0.02},{"p":"tau","c":"chain1","l":25,"a":0.0},{"p":"tau","c":"chain1","l":26,"a":0.03},{"p":"tau","c":"chain1","l":27,"a":0.02},{"p":"tau","c":"chain1","l":28,"a":0.02},{"p":"tau","c":"chain1","l":29,"a":-0.01},{"p":"tau","c":"chain1","l":30,"a":-0.04},
{"p":"tau","c":"chain2","l":0,"a":1},{"p":"tau","c":"chain2","l":1,"a":-0.05},{"p":"tau","c":"chain2","l":2,"a":-0.02},{"p":"tau","c":"chain2","l":3,"a":-0.02},{"p":"tau","c":"chain2","l":4,"a":0.0},{"p":"tau","c":"chain2","l":5,"a":0.04},{"p":"tau","c":"chain2","l":6,"a":0.03},{"p":"tau","c":"chain2","l":7,"a":0.09},{"p":"tau","c":"chain2","l":8,"a":-0.01},{"p":"tau","c":"chain2","l":9,"a":0.02},{"p":"tau","c":"chain2","l":10,"a":0.0},{"p":"tau","c":"chain2","l":11,"a":-0.01},{"p":"tau","c":"chain2","l":12,"a":0.02},{"p":"tau","c":"chain2","l":13,"a":-0.05},{"p":"tau","c":"chain2","l":14,"a":-0.08},{"p":"tau","c":"chain2","l":15,"a":-0.05},{"p":"tau","c":"chain2","l":16,"a":0.02},{"p":"tau","c":"chain2","l":17,"a":0.04},{"p":"tau","c":"chain2","l":18,"a":-0.03},{"p":"tau","c":"chain2","l":19,"a":0.05},{"p":"tau","c":"chain2","l":20,"a":-0.02},{"p":"tau","c":"chain2","l":21,"a":0.01},{"p":"tau","c":"chain2","l":22,"a":-0.05},{"p":"tau","c":"chain2","l":23,"a":-0.02},{"p":"tau","c":"chain2","l":24,"a":0.01},{"p":"tau","c":"chain2","l":25,"a":0.02},{"p":"tau","c":"chain2","l":26,"a":0.06},{"p":"tau","c":"chain2","l":27,"a":0.0},{"p":"tau","c":"chain2","l":28,"a":0.02},{"p":"tau","c":"chain2","l":29,"a":0.08},{"p":"tau","c":"chain2","l":30,"a":-0.04},
{"p":"tau","c":"chain3","l":0,"a":1},{"p":"tau","c":"chain3","l":1,"a":-0.04},{"p":"tau","c":"chain3","l":2,"a":-0.06},{"p":"tau","c":"chain3","l":3,"a":-0.02},{"p":"tau","c":"chain3","l":4,"a":-0.02},{"p":"tau","c":"chain3","l":5,"a":-0.05},{"p":"tau","c":"chain3","l":6,"a":0.0},{"p":"tau","c":"chain3","l":7,"a":0.04},{"p":"tau","c":"chain3","l":8,"a":0.04},{"p":"tau","c":"chain3","l":9,"a":0.03},{"p":"tau","c":"chain3","l":10,"a":0.04},{"p":"tau","c":"chain3","l":11,"a":0.0},{"p":"tau","c":"chain3","l":12,"a":-0.05},{"p":"tau","c":"chain3","l":13,"a":-0.08},{"p":"tau","c":"chain3","l":14,"a":-0.04},{"p":"tau","c":"chain3","l":15,"a":0.0},{"p":"tau","c":"chain3","l":16,"a":0.18},{"p":"tau","c":"chain3","l":17,"a":0.0},{"p":"tau","c":"chain3","l":18,"a":-0.06},{"p":"tau","c":"chain3","l":19,"a":0.08},{"p":"tau","c":"chain3","l":20,"a":-0.02},{"p":"tau","c":"chain3","l":21,"a":0.01},{"p":"tau","c":"chain3","l":22,"a":-0.15},{"p":"tau","c":"chain3","l":23,"a":0.0},{"p":"tau","c":"chain3","l":24,"a":0.07},{"p":"tau","c":"chain3","l":25,"a":-0.04},{"p":"tau","c":"chain3","l":26,"a":0.03},{"p":"tau","c":"chain3","l":27,"a":0.04},{"p":"tau","c":"chain3","l":28,"a":-0.03},{"p":"tau","c":"chain3","l":29,"a":-0.04},{"p":"tau","c":"chain3","l":30,"a":-0.03},
{"p":"etacross","c":"chain1","l":0,"a":1},{"p":"etacross","c":"chain1","l":1,"a":0.31},{"p":"etacross","c":"chain1","l":2,"a":0.19},{"p":"etacross","c":"chain1","l":3,"a":0.15},{"p":"etacross","c":"chain1","l":4,"a":0.16},{"p":"etacross","c":"chain1","l":5,"a":0.12},{"p":"etacross","c":"chain1","l":6,"a":0.08},{"p":"etacross","c":"chain1","l":7,"a":0.0},{"p":"etacross","c":"chain1","l":8,"a":0.0},{"p":"etacross","c":"chain1","l":9,"a":0.0},{"p":"etacross","c":"chain1","l":10,"a":0.03},{"p":"etacross","c":"chain1","l":11,"a":0.04},{"p":"etacross","c":"chain1","l":12,"a":0.01},{"p":"etacross","c":"chain1","l":13,"a":-0.05},{"p":"etacross","c":"chain1","l":14,"a":-0.09},{"p":"etacross","c":"chain1","l":15,"a":-0.03},{"p":"etacross","c":"chain1","l":16,"a":-0.04},{"p":"etacross","c":"chain1","l":17,"a":0.02},{"p":"etacross","c":"chain1","l":18,"a":-0.04},{"p":"etacross","c":"chain1","l":19,"a":0.0},{"p":"etacross","c":"chain1","l":20,"a":-0.02},{"p":"etacross","c":"chain1","l":21,"a":0.02},{"p":"etacross","c":"chain1","l":22,"a":0.01},{"p":"etacross","c":"chain1","l":23,"a":0.0},{"p":"etacross","c":"chain1","l":24,"a":0.02},{"p":"etacross","c":"chain1","l":25,"a":-0.04},{"p":"etacross","c":"chain1","l":26,"a":0.06},{"p":"etacross","c":"chain1","l":27,"a":-0.02},{"p":"etacross","c":"chain1","l":28,"a":-0.03},{"p":"etacross","c":"chain1","l":29,"a":0.0},{"p":"etacross","c":"chain1","l":30,"a":0.01},
{"p":"etacross","c":"chain2","l":0,"a":1},{"p":"etacross","c":"chain2","l":1,"a":0.35},{"p":"etacross","c":"chain2","l":2,"a":0.17},{"p":"etacross","c":"chain2","l":3,"a":0.13},{"p":"etacross","c":"chain2","l":4,"a":0.15},{"p":"etacross","c":"chain2","l":5,"a":0.07},{"p":"etacross","c":"chain2","l":6,"a":0.03},{"p":"etacross","c":"chain2","l":7,"a":0.02},{"p":"etacross","c":"chain2","l":8,"a":0.04},{"p":"etacross","c":"chain2","l":9,"a":0.06},{"p":"etacross","c":"chain2","l":10,"a":-0.02},{"p":"etacross","c":"chain2","l":11,"a":-0.04},{"p":"etacross","c":"chain2","l":12,"a":-0.07},{"p":"etacross","c":"chain2","l":13,"a":-0.03},{"p":"etacross","c":"chain2","l":14,"a":0.02},{"p":"etacross","c":"chain2","l":15,"a":0.01},{"p":"etacross","c":"chain2","l":16,"a":0.02},{"p":"etacross","c":"chain2","l":17,"a":0.04},{"p":"etacross","c":"chain2","l":18,"a":-0.01},{"p":"etacross","c":"chain2","l":19,"a":0.02},{"p":"etacross","c":"chain2","l":20,"a":-0.05},{"p":"etacross","c":"chain2","l":21,"a":0.05},{"p":"etacross","c":"chain2","l":22,"a":0.10},{"p":"etacross","c":"chain2","l":23,"a":0.02},{"p":"etacross","c":"chain2","l":24,"a":0.0},{"p":"etacross","c":"chain2","l":25,"a":0.0},{"p":"etacross","c":"chain2","l":26,"a":-0.01},{"p":"etacross","c":"chain2","l":27,"a":0.05},{"p":"etacross","c":"chain2","l":28,"a":-0.03},{"p":"etacross","c":"chain2","l":29,"a":0.0},{"p":"etacross","c":"chain2","l":30,"a":-0.02},
{"p":"etacross","c":"chain3","l":0,"a":1},{"p":"etacross","c":"chain3","l":1,"a":0.43},{"p":"etacross","c":"chain3","l":2,"a":0.31},{"p":"etacross","c":"chain3","l":3,"a":0.16},{"p":"etacross","c":"chain3","l":4,"a":0.12},{"p":"etacross","c":"chain3","l":5,"a":0.11},{"p":"etacross","c":"chain3","l":6,"a":-0.01},{"p":"etacross","c":"chain3","l":7,"a":0.01},{"p":"etacross","c":"chain3","l":8,"a":0.02},{"p":"etacross","c":"chain3","l":9,"a":0.01},{"p":"etacross","c":"chain3","l":10,"a":-0.03},{"p":"etacross","c":"chain3","l":11,"a":-0.02},{"p":"etacross","c":"chain3","l":12,"a":-0.01},{"p":"etacross","c":"chain3","l":13,"a":-0.02},{"p":"etacross","c":"chain3","l":14,"a":0.01},{"p":"etacross","c":"chain3","l":15,"a":-0.01},{"p":"etacross","c":"chain3","l":16,"a":0.08},{"p":"etacross","c":"chain3","l":17,"a":0.10},{"p":"etacross","c":"chain3","l":18,"a":0.21},{"p":"etacross","c":"chain3","l":19,"a":0.22},{"p":"etacross","c":"chain3","l":20,"a":0.17},{"p":"etacross","c":"chain3","l":21,"a":0.15},{"p":"etacross","c":"chain3","l":22,"a":0.12},{"p":"etacross","c":"chain3","l":23,"a":0.10},{"p":"etacross","c":"chain3","l":24,"a":0.08},{"p":"etacross","c":"chain3","l":25,"a":-0.04},{"p":"etacross","c":"chain3","l":26,"a":-0.03},{"p":"etacross","c":"chain3","l":27,"a":-0.05},{"p":"etacross","c":"chain3","l":28,"a":-0.05},{"p":"etacross","c":"chain3","l":29,"a":-0.03},{"p":"etacross","c":"chain3","l":30,"a":-0.02},
{"p":"eta","c":"chain1","l":0,"a":1},{"p":"eta","c":"chain1","l":1,"a":0.14},{"p":"eta","c":"chain1","l":2,"a":0.05},{"p":"eta","c":"chain1","l":3,"a":0.03},{"p":"eta","c":"chain1","l":4,"a":0.04},{"p":"eta","c":"chain1","l":5,"a":0.0},{"p":"eta","c":"chain1","l":6,"a":0.08},{"p":"eta","c":"chain1","l":7,"a":0.0},{"p":"eta","c":"chain1","l":8,"a":-0.02},{"p":"eta","c":"chain1","l":9,"a":0.01},{"p":"eta","c":"chain1","l":10,"a":-0.03},{"p":"eta","c":"chain1","l":11,"a":-0.06},{"p":"eta","c":"chain1","l":12,"a":0.0},{"p":"eta","c":"chain1","l":13,"a":0.0},{"p":"eta","c":"chain1","l":14,"a":0.0},{"p":"eta","c":"chain1","l":15,"a":0.05},{"p":"eta","c":"chain1","l":16,"a":0.0},{"p":"eta","c":"chain1","l":17,"a":-0.06},{"p":"eta","c":"chain1","l":18,"a":-0.12},{"p":"eta","c":"chain1","l":19,"a":0.0},{"p":"eta","c":"chain1","l":20,"a":0.02},{"p":"eta","c":"chain1","l":21,"a":0.02},{"p":"eta","c":"chain1","l":22,"a":0.01},{"p":"eta","c":"chain1","l":23,"a":-0.04},{"p":"eta","c":"chain1","l":24,"a":-0.08},{"p":"eta","c":"chain1","l":25,"a":-0.09},{"p":"eta","c":"chain1","l":26,"a":0.0},{"p":"eta","c":"chain1","l":27,"a":-0.05},{"p":"eta","c":"chain1","l":28,"a":-0.04},{"p":"eta","c":"chain1","l":29,"a":0.06},{"p":"eta","c":"chain1","l":30,"a":0.03},
{"p":"eta","c":"chain2","l":0,"a":1},{"p":"eta","c":"chain2","l":1,"a":0.22},{"p":"eta","c":"chain2","l":2,"a":0.06},{"p":"eta","c":"chain2","l":3,"a":0.11},{"p":"eta","c":"chain2","l":4,"a":0.11},{"p":"eta","c":"chain2","l":5,"a":0.09},{"p":"eta","c":"chain2","l":6,"a":0.0},{"p":"eta","c":"chain2","l":7,"a":-0.02},{"p":"eta","c":"chain2","l":8,"a":0.03},{"p":"eta","c":"chain2","l":9,"a":0.06},{"p":"eta","c":"chain2","l":10,"a":-0.02},{"p":"eta","c":"chain2","l":11,"a":0.04},{"p":"eta","c":"chain2","l":12,"a":0.08},{"p":"eta","c":"chain2","l":13,"a":-0.03},{"p":"eta","c":"chain2","l":14,"a":0.0},{"p":"eta","c":"chain2","l":15,"a":0.05},{"p":"eta","c":"chain2","l":16,"a":-0.02},{"p":"eta","c":"chain2","l":17,"a":0.01},{"p":"eta","c":"chain2","l":18,"a":0.0},{"p":"eta","c":"chain2","l":19,"a":0.03},{"p":"eta","c":"chain2","l":20,"a":0.04},{"p":"eta","c":"chain2","l":21,"a":0.04},{"p":"eta","c":"chain2","l":22,"a":-0.01},{"p":"eta","c":"chain2","l":23,"a":0.0},{"p":"eta","c":"chain2","l":24,"a":0.01},{"p":"eta","c":"chain2","l":25,"a":0.0},{"p":"eta","c":"chain2","l":26,"a":0.02},{"p":"eta","c":"chain2","l":27,"a":-0.02},{"p":"eta","c":"chain2","l":28,"a":-0.04},{"p":"eta","c":"chain2","l":29,"a":0.0},{"p":"eta","c":"chain2","l":30,"a":0.02},
{"p":"eta","c":"chain3","l":0,"a":1},{"p":"eta","c":"chain3","l":1,"a":0.35},{"p":"eta","c":"chain3","l":2,"a":0.17},{"p":"eta","c":"chain3","l":3,"a":0.05},{"p":"eta","c":"chain3","l":4,"a":0.06},{"p":"eta","c":"chain3","l":5,"a":-0.03},{"p":"eta","c":"chain3","l":6,"a":0.02},{"p":"eta","c":"chain3","l":7,"a":0.01},{"p":"eta","c":"chain3","l":8,"a":0.0},{"p":"eta","c":"chain3","l":9,"a":-0.01},{"p":"eta","c":"chain3","l":10,"a":-0.05},{"p":"eta","c":"chain3","l":11,"a":0.03},{"p":"eta","c":"chain3","l":12,"a":0.08},{"p":"eta","c":"chain3","l":13,"a":0.08},{"p":"eta","c":"chain3","l":14,"a":-0.02},{"p":"eta","c":"chain3","l":15,"a":-0.04},{"p":"eta","c":"chain3","l":16,"a":0.0},{"p":"eta","c":"chain3","l":17,"a":0.10},{"p":"eta","c":"chain3","l":18,"a":0.12},{"p":"eta","c":"chain3","l":19,"a":0.14},{"p":"eta","c":"chain3","l":20,"a":0.12},{"p":"eta","c":"chain3","l":21,"a":0.05},{"p":"eta","c":"chain3","l":22,"a":0.0},{"p":"eta","c":"chain3","l":23,"a":-0.03},{"p":"eta","c":"chain3","l":24,"a":-0.03},{"p":"eta","c":"chain3","l":25,"a":0.0},{"p":"eta","c":"chain3","l":26,"a":-0.08},{"p":"eta","c":"chain3","l":27,"a":-0.12},{"p":"eta","c":"chain3","l":28,"a":-0.07},{"p":"eta","c":"chain3","l":29,"a":0.0},{"p":"eta","c":"chain3","l":30,"a":0.0}
]
},
"spacing":45,
"hconcat":[
{
"title":{"text":"(a) Convergencia","orient":"bottom","anchor":"middle","frame":"bounds","font":"Liberation Serif","fontSize":23,"fontWeight":"normal","color":"#000000","baseline":"alphabetic","offset":38,"dx":10},
"columns":2,
"spacing":{"row":3.5,"column":0.5},
"concat":[
{"title":{"text":"stds"},"width":106,"height":117,"data":{"name":"trace"},"transform":[{"filter":"datum.p=='stds'"}],"mark":{"type":"line","strokeWidth":0.65,"opacity":0.85,"clip":true},
"encoding":{"x":{"field":"i","type":"quantitative","title":null,"scale":{"domain":[3350,7170],"nice":false,"zero":false},"axis":{"values":[4000,5000,6000,7000],"format":"d"}},
"y":{"field":"v","type":"quantitative","title":null,"scale":{"domain":[1.381,1.823],"nice":false,"zero":false},"axis":{"values":[1.4,1.5,1.6,1.7,1.8],"format":".1f","minExtent":16}},
"color":{"field":"c","type":"nominal","scale":{"domain":["1","2","3"],"range":["#EF8A3A","#C9C0E2","#5E2F92"]},"legend":{"title":"chain","orient":"none","legendX":243,"legendY":109,"padding":0,"titleFontSize":6.3,"titleFontWeight":"normal","titleColor":"#333333","titleFont":"Liberation Sans","titlePadding":3,"labelFontSize":6,"labelColor":"#333333","labelFont":"Liberation Sans","symbolType":"stroke","symbolSize":60,"symbolStrokeWidth":1,"rowPadding":3.5,"labelOffset":4}}}},
{"title":{"text":"tau"},"width":106,"height":117,"data":{"name":"trace"},"transform":[{"filter":"datum.p=='tau'"}],"mark":{"type":"line","strokeWidth":0.65,"opacity":0.85,"clip":true},
"encoding":{"x":{"field":"i","type":"quantitative","title":null,"scale":{"domain":[3350,7170],"nice":false,"zero":false},"axis":{"values":[4000,5000,6000,7000],"format":"d"}},
"y":{"field":"v","type":"quantitative","title":null,"scale":{"domain":[0.338,1.3],"nice":false,"zero":false},"axis":{"values":[0.5,0.75,1.0,1.25],"format":".2f","minExtent":16}},
"color":{"field":"c","type":"nominal","scale":{"domain":["1","2","3"],"range":["#EF8A3A","#C9C0E2","#5E2F92"]}}}},
{"title":{"text":"etacross"},"width":106,"height":118,"data":{"name":"trace"},"transform":[{"filter":"datum.p=='etacross'"}],"mark":{"type":"line","strokeWidth":0.65,"opacity":0.85,"clip":true},
"encoding":{"x":{"field":"i","type":"quantitative","title":null,"scale":{"domain":[3350,7170],"nice":false,"zero":false},"axis":{"values":[4000,5000,6000,7000],"format":"d"}},
"y":{"field":"v","type":"quantitative","title":null,"scale":{"domain":[-0.007,0.264],"nice":false,"zero":false},"axis":{"values":[0,0.05,0.1,0.15,0.2,0.25],"format":".2f","minExtent":16}},
"color":{"field":"c","type":"nominal","scale":{"domain":["1","2","3"],"range":["#EF8A3A","#C9C0E2","#5E2F92"]}}}},
{"title":{"text":"eta"},"width":106,"height":118,"data":{"name":"trace"},"transform":[{"filter":"datum.p=='eta'"}],"mark":{"type":"line","strokeWidth":0.65,"opacity":0.85,"clip":true},
"encoding":{"x":{"field":"i","type":"quantitative","title":null,"scale":{"domain":[3350,7170],"nice":false,"zero":false},"axis":{"values":[4000,5000,6000,7000],"format":"d"}},
"y":{"field":"v","type":"quantitative","title":null,"scale":{"domain":[-0.0042,0.0775],"nice":false,"zero":false},"axis":{"values":[0,0.02,0.04,0.06],"format":".2f","minExtent":16}},
"color":{"field":"c","type":"nominal","scale":{"domain":["1","2","3"],"range":["#EF8A3A","#C9C0E2","#5E2F92"]}}}}
]
},
{
"spacing":13.2,
"hconcat":[
{
"title":{"text":"(b) Distribución","orient":"bottom","anchor":"middle","frame":"bounds","font":"Liberation Serif","fontSize":23,"fontWeight":"normal","color":"#000000","baseline":"alphabetic","offset":38,"dx":-4.7},
"columns":2,
"spacing":{"row":3.5,"column":6},
"concat":[
{"title":{"text":"stds"},"width":136,"height":117,"layer":[
{"data":{"name":"hrange"},"transform":[{"filter":"datum.p=='stds'"}],"mark":{"type":"rule","color":"#C4C4C4","strokeWidth":1.6},"encoding":{"x":{"field":"lo","type":"quantitative","title":null,"scale":{"domain":[-0.14,6.14],"nice":false,"zero":false},"axis":{"values":[0,2,4,6],"format":"d"}},"x2":{"field":"hi"},"y":{"datum":0,"type":"quantitative","scale":{"domain":[-5,105],"nice":false},"axis":null}}},
{"data":{"name":"hist"},"transform":[{"filter":"datum.p=='stds'"}],"mark":{"type":"rect","fill":"#B3001E","stroke":"#330008","strokeWidth":0.45},"encoding":{"x":{"field":"x0","type":"quantitative","title":null,"axis":{"values":[0,2,4,6],"format":"d"}},"x2":{"field":"x1"},"y":{"field":"n","type":"quantitative","axis":null},"y2":{"datum":0}}}
]},
{"title":{"text":"tau"},"width":136,"height":117,"layer":[
{"data":{"name":"hrange"},"transform":[{"filter":"datum.p=='tau'"}],"mark":{"type":"rule","color":"#C4C4C4","strokeWidth":1.6},"encoding":{"x":{"field":"lo","type":"quantitative","title":null,"scale":{"domain":[0.1,1.62],"nice":false,"zero":false},"axis":{"values":[0.4,0.8,1.2,1.6],"format":".1f"}},"x2":{"field":"hi"},"y":{"datum":0,"type":"quantitative","scale":{"domain":[-5,105],"nice":false},"axis":null}}},
{"data":{"name":"hist"},"transform":[{"filter":"datum.p=='tau'"}],"mark":{"type":"rect","fill":"#B3001E","stroke":"#330008","strokeWidth":0.45},"encoding":{"x":{"field":"x0","type":"quantitative","title":null,"axis":{"values":[0.4,0.8,1.2,1.6],"format":".1f"}},"x2":{"field":"x1"},"y":{"field":"n","type":"quantitative","axis":null},"y2":{"datum":0}}}
]},
{"title":{"text":"etacross"},"width":136,"height":117,"layer":[
{"data":{"name":"hrange"},"transform":[{"filter":"datum.p=='etacross'"}],"mark":{"type":"rule","color":"#C4C4C4","strokeWidth":1.6},"encoding":{"x":{"field":"lo","type":"quantitative","title":null,"scale":{"domain":[-0.057,1.05],"nice":false,"zero":false},"axis":{"values":[0,0.25,0.5,0.75,1],"format":".2f"}},"x2":{"field":"hi"},"y":{"datum":0,"type":"quantitative","scale":{"domain":[-5,105],"nice":false},"axis":null}}},
{"data":{"name":"hist"},"transform":[{"filter":"datum.p=='etacross'"}],"mark":{"type":"rect","fill":"#B3001E","stroke":"#330008","strokeWidth":0.45},"encoding":{"x":{"field":"x0","type":"quantitative","title":null,"axis":{"values":[0,0.25,0.5,0.75,1],"format":".2f"}},"x2":{"field":"x1"},"y":{"field":"n","type":"quantitative","axis":null},"y2":{"datum":0}}}
]},
{"title":{"text":"eta"},"width":136,"height":117,"layer":[
{"data":{"name":"hrange"},"transform":[{"filter":"datum.p=='eta'"}],"mark":{"type":"rule","color":"#C4C4C4","strokeWidth":1.6},"encoding":{"x":{"field":"lo","type":"quantitative","title":null,"scale":{"domain":[-0.053,0.893],"nice":false,"zero":false},"axis":{"values":[0,0.2,0.4,0.6,0.8],"format":".1f"}},"x2":{"field":"hi"},"y":{"datum":0,"type":"quantitative","scale":{"domain":[-5,105],"nice":false},"axis":null}}},
{"data":{"name":"hist"},"transform":[{"filter":"datum.p=='eta'"}],"mark":{"type":"rect","fill":"#B3001E","stroke":"#330008","strokeWidth":0.45},"encoding":{"x":{"field":"x0","type":"quantitative","title":null,"axis":{"values":[0,0.2,0.4,0.6,0.8],"format":".1f"}},"x2":{"field":"x1"},"y":{"field":"n","type":"quantitative","axis":null},"y2":{"datum":0}}}
]}
]
},
{
"title":{"text":"(c) Auto correlación","orient":"bottom","anchor":"middle","frame":"bounds","font":"Liberation Serif","fontSize":23,"fontWeight":"normal","color":"#000000","baseline":"alphabetic","offset":32,"dx":-4},
"vconcat":[
{
"title":{"text":"Lag","orient":"bottom","anchor":"middle","frame":"bounds","font":"Liberation Sans","fontSize":7,"fontWeight":"bold","color":"#000000","baseline":"alphabetic","offset":5,"dx":9},
"vconcat":[
{
"title":{"text":"Autocorrelation","orient":"left","anchor":"middle","frame":"bounds","font":"Liberation Sans","fontSize":7,"fontWeight":"bold","color":"#000000","offset":-6},
"columns":3,
"align":"each",
"spacing":{"row":5,"column":5},
"concat":[
{"title":{"text":"chain1","fontSize":5.3},"width":80,"height":60,"data":{"name":"acf"},"transform":[{"filter":"datum.p=='stds' && datum.c=='chain1'"}],"layer":[
{"mark":{"type":"rule","color":"#C4C4C4","strokeWidth":1.2},"encoding":{"y":{"datum":0,"type":"quantitative","scale":{"domain":[-0.16,1.04],"nice":false},"axis":{"values":[0,0.5,1],"format":"~g","minExtent":12}}}},
{"mark":{"type":"bar","fill":"#B3001E","stroke":"#330008","strokeWidth":0.4,"size":2.43},"encoding":{"x":{"field":"l","type":"quantitative","title":null,"scale":{"domain":[-1.64,31.2],"nice":false,"zero":false},"axis":null},"y":{"field":"a","type":"quantitative","title":null,"axis":{"values":[0,0.5,1],"format":"~g","minExtent":12}}}}]},
{"title":{"text":"chain2","fontSize":5.3},"width":80,"height":60,"data":{"name":"acf"},"transform":[{"filter":"datum.p=='stds' && datum.c=='chain2'"}],"layer":[
{"mark":{"type":"rule","color":"#C4C4C4","strokeWidth":1.2},"encoding":{"y":{"datum":0,"type":"quantitative","scale":{"domain":[-0.16,1.04],"nice":false},"axis":null}}},
{"mark":{"type":"bar","fill":"#B3001E","stroke":"#330008","strokeWidth":0.4,"size":2.43},"encoding":{"x":{"field":"l","type":"quantitative","title":null,"scale":{"domain":[-1.64,31.2],"nice":false,"zero":false},"axis":null},"y":{"field":"a","type":"quantitative","title":null,"axis":null}}}]},
{"title":{"text":"chain3","fontSize":5.3},"width":80,"height":60,"data":{"name":"acf"},"transform":[{"filter":"datum.p=='stds' && datum.c=='chain3'"}],"layer":[
{"mark":{"type":"rule","color":"#C4C4C4","strokeWidth":1.2},"encoding":{"y":{"datum":0,"type":"quantitative","scale":{"domain":[-0.16,1.04],"nice":false},"axis":null}}},
{"mark":{"type":"bar","fill":"#B3001E","stroke":"#330008","strokeWidth":0.4,"size":2.43},"encoding":{"x":{"field":"l","type":"quantitative","title":null,"scale":{"domain":[-1.64,31.2],"nice":false,"zero":false},"axis":null},"y":{"field":"a","type":"quantitative","title":null,"axis":null}}}]},
{"width":80,"height":60,"data":{"name":"acf"},"transform":[{"filter":"datum.p=='tau' && datum.c=='chain1'"}],"layer":[
{"mark":{"type":"rule","color":"#C4C4C4","strokeWidth":1.2},"encoding":{"y":{"datum":0,"type":"quantitative","scale":{"domain":[-0.16,1.04],"nice":false},"axis":{"values":[0,0.5,1],"format":"~g","minExtent":12}}}},
{"mark":{"type":"bar","fill":"#B3001E","stroke":"#330008","strokeWidth":0.4,"size":2.43},"encoding":{"x":{"field":"l","type":"quantitative","title":null,"scale":{"domain":[-1.64,31.2],"nice":false,"zero":false},"axis":null},"y":{"field":"a","type":"quantitative","title":null,"axis":{"values":[0,0.5,1],"format":"~g","minExtent":12}}}}]},
{"width":80,"height":60,"data":{"name":"acf"},"transform":[{"filter":"datum.p=='tau' && datum.c=='chain2'"}],"layer":[
{"mark":{"type":"rule","color":"#C4C4C4","strokeWidth":1.2},"encoding":{"y":{"datum":0,"type":"quantitative","scale":{"domain":[-0.16,1.04],"nice":false},"axis":null}}},
{"mark":{"type":"bar","fill":"#B3001E","stroke":"#330008","strokeWidth":0.4,"size":2.43},"encoding":{"x":{"field":"l","type":"quantitative","title":null,"scale":{"domain":[-1.64,31.2],"nice":false,"zero":false},"axis":null},"y":{"field":"a","type":"quantitative","title":null,"axis":null}}}]},
{"width":80,"height":60,"data":{"name":"acf"},"transform":[{"filter":"datum.p=='tau' && datum.c=='chain3'"}],"layer":[
{"mark":{"type":"rule","color":"#C4C4C4","strokeWidth":1.2},"encoding":{"y":{"datum":0,"type":"quantitative","scale":{"domain":[-0.16,1.04],"nice":false},"axis":null}}},
{"mark":{"type":"bar","fill":"#B3001E","stroke":"#330008","strokeWidth":0.4,"size":2.43},"encoding":{"x":{"field":"l","type":"quantitative","title":null,"scale":{"domain":[-1.64,31.2],"nice":false,"zero":false},"axis":null},"y":{"field":"a","type":"quantitative","title":null,"axis":null}}}]},
{"width":80,"height":60,"data":{"name":"acf"},"transform":[{"filter":"datum.p=='etacross' && datum.c=='chain1'"}],"layer":[
{"mark":{"type":"rule","color":"#C4C4C4","strokeWidth":1.2},"encoding":{"y":{"datum":0,"type":"quantitative","scale":{"domain":[-0.16,1.04],"nice":false},"axis":{"values":[0,0.5,1],"format":"~g","minExtent":12}}}},
{"mark":{"type":"bar","fill":"#B3001E","stroke":"#330008","strokeWidth":0.4,"size":2.43},"encoding":{"x":{"field":"l","type":"quantitative","title":null,"scale":{"domain":[-1.64,31.2],"nice":false,"zero":false},"axis":null},"y":{"field":"a","type":"quantitative","title":null,"axis":{"values":[0,0.5,1],"format":"~g","minExtent":12}}}}]},
{"width":80,"height":60,"data":{"name":"acf"},"transform":[{"filter":"datum.p=='etacross' && datum.c=='chain2'"}],"layer":[
{"mark":{"type":"rule","color":"#C4C4C4","strokeWidth":1.2},"encoding":{"y":{"datum":0,"type":"quantitative","scale":{"domain":[-0.16,1.04],"nice":false},"axis":null}}},
{"mark":{"type":"bar","fill":"#B3001E","stroke":"#330008","strokeWidth":0.4,"size":2.43},"encoding":{"x":{"field":"l","type":"quantitative","title":null,"scale":{"domain":[-1.64,31.2],"nice":false,"zero":false},"axis":null},"y":{"field":"a","type":"quantitative","title":null,"axis":null}}}]},
{"width":80,"height":60,"data":{"name":"acf"},"transform":[{"filter":"datum.p=='etacross' && datum.c=='chain3'"}],"layer":[
{"mark":{"type":"rule","color":"#C4C4C4","strokeWidth":1.2},"encoding":{"y":{"datum":0,"type":"quantitative","scale":{"domain":[-0.16,1.04],"nice":false},"axis":null}}},
{"mark":{"type":"bar","fill":"#B3001E","stroke":"#330008","strokeWidth":0.4,"size":2.43},"encoding":{"x":{"field":"l","type":"quantitative","title":null,"scale":{"domain":[-1.64,31.2],"nice":false,"zero":false},"axis":null},"y":{"field":"a","type":"quantitative","title":null,"axis":null}}}]},
{"width":80,"height":60,"data":{"name":"acf"},"transform":[{"filter":"datum.p=='eta' && datum.c=='chain1'"}],"layer":[
{"mark":{"type":"rule","color":"#C4C4C4","strokeWidth":1.2},"encoding":{"y":{"datum":0,"type":"quantitative","scale":{"domain":[-0.16,1.04],"nice":false},"axis":{"values":[0,0.5,1],"format":"~g","minExtent":12}}}},
{"mark":{"type":"bar","fill":"#B3001E","stroke":"#330008","strokeWidth":0.4,"size":2.43},"encoding":{"x":{"field":"l","type":"quantitative","title":null,"scale":{"domain":[-1.64,31.2],"nice":false,"zero":false},"axis":{"values":[0,10,20,30],"format":"d"}},"y":{"field":"a","type":"quantitative","title":null,"axis":{"values":[0,0.5,1],"format":"~g","minExtent":12}}}}]},
{"width":80,"height":60,"data":{"name":"acf"},"transform":[{"filter":"datum.p=='eta' && datum.c=='chain2'"}],"layer":[
{"mark":{"type":"rule","color":"#C4C4C4","strokeWidth":1.2},"encoding":{"y":{"datum":0,"type":"quantitative","scale":{"domain":[-0.16,1.04],"nice":false},"axis":null}}},
{"mark":{"type":"bar","fill":"#B3001E","stroke":"#330008","strokeWidth":0.4,"size":2.43},"encoding":{"x":{"field":"l","type":"quantitative","title":null,"scale":{"domain":[-1.64,31.2],"nice":false,"zero":false},"axis":{"values":[0,10,20,30],"format":"d"}},"y":{"field":"a","type":"quantitative","title":null,"axis":null}}}]},
{"width":80,"height":60,"data":{"name":"acf"},"transform":[{"filter":"datum.p=='eta' && datum.c=='chain3'"}],"layer":[
{"mark":{"type":"rule","color":"#C4C4C4","strokeWidth":1.2},"encoding":{"y":{"datum":0,"type":"quantitative","scale":{"domain":[-0.16,1.04],"nice":false},"axis":null}}},
{"mark":{"type":"bar","fill":"#B3001E","stroke":"#330008","strokeWidth":0.4,"size":2.43},"encoding":{"x":{"field":"l","type":"quantitative","title":null,"scale":{"domain":[-1.64,31.2],"nice":false,"zero":false},"axis":{"values":[0,10,20,30],"format":"d"}},"y":{"field":"a","type":"quantitative","title":null,"axis":null}}}]}
]
}
]
}
]
}
]
}
]
}
